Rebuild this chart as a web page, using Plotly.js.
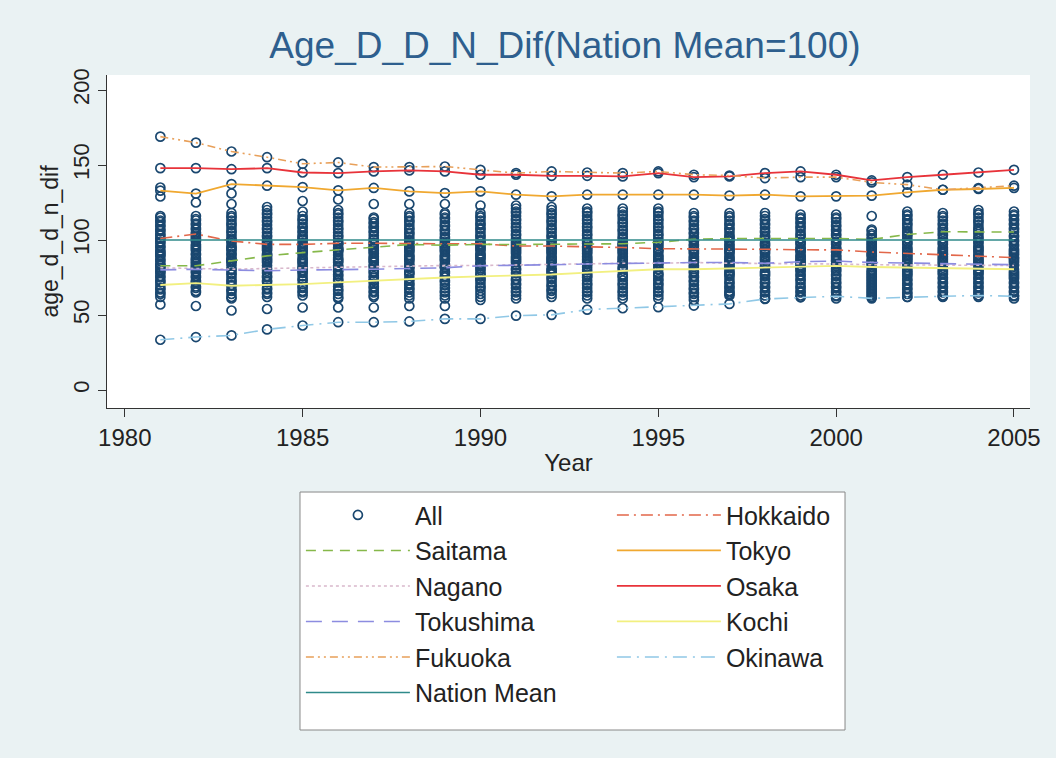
<!DOCTYPE html>
<html>
<head>
<meta charset="utf-8">
<script src="https://cdn.plot.ly/plotly-3.0.1.min.js"></script>
<style>
html,body{margin:0;padding:0;background:#eaf2f3;}
#chart{width:1056px;height:758px;}
</style>
</head>
<body>
<div id="chart"></div>
<script>
const years = [1981,1982,1983,1984,1985,1986,1987,1988,1989,1990,1991,1992,1993,1994,1995,1996,1997,1998,1999,2000,2001,2002,2003,2004,2005];

const hokkaido = [101,104,99.3,97.1,97.1,97.8,97.8,97.5,97.5,97.5,96,96,95.6,95,94.2,94.2,94,93.8,93.5,93.4,92,91,90.5,89.5,88.3];
const saitama = [82.8,82.8,86.1,89.4,91.6,93.4,95.5,97,96.5,97.1,97,97,97.5,97.5,98.5,100.5,101,101,101,101,100.4,103.7,105.5,105.5,105.3];
const tokyo = [132.9,130.9,137.3,136.2,135.3,133.1,134.7,132.4,131.3,132.4,130.2,129.1,130.2,130.2,130.2,130.2,129.6,130.2,129.1,129.1,129.6,131.8,133.5,134,134.7];
const nagano = [81.5,81,80.5,81,81.5,82,82.5,82.5,83,83,83.5,84,84,84.5,84.5,85,84.5,84.5,84.5,84,83.5,83.5,83,83,83];
const osaka = [147.9,147.9,147.2,147.9,145,144.6,145.7,146.4,145.7,143.5,143.5,142.8,142.8,142.4,144.6,141.9,142.4,144.6,145.7,143.5,139.7,141.9,143.5,145,146.8];
const tokushima = [80.1,80.5,80,79.5,80,80,80.5,81,81.5,82.8,83,83.5,84,84.5,85,85,85,84.5,85.5,86,85,84.5,84,84,83.5];
const kochi = [70,71.3,69.5,70,70.6,71.7,72.8,74.4,75,75.7,76.1,77,78.3,79.5,80.5,80.5,81,81.5,82,82.8,82,81.7,81.5,81,80.5];
const fukuoka = [168.9,164.9,159,155.2,150.8,151.7,148.6,148.6,149,146.8,144.6,145.7,145,144.6,145.7,143.5,143,141.3,141.9,141.9,138.4,136.9,133.5,134.6,136.2];
const okinawa = [33.5,35.3,36.4,40.4,43,45.2,45.2,45.7,47.4,47.4,49.6,50.1,53.6,54.5,55.2,56.3,57.4,60.7,61.8,62.5,61.1,62,62.5,63,62.5];
const nationMean = [100,100,100,100,100,100,100,100,100,100,100,100,100,100,100,100,100,100,100,100,100,100,100,100,100];

// remaining 38 prefectures, one list per year (1981..2005)
const otherPrefs = [
[135,129,116,115,113,112,110,109,107,106,104,103,101,99,98,96,95,93,92,90,89,87,86,84,83,79,78,76,75,73,72,68,67,65,64,62,57,91],
[125,116,114,113,111,110,108,107,105,103,102,100,99,97,96,94,93,91,90,88,87,85,84,82,79,78,76,75,73,72,69,68,66,65,56,95,86,101],
[131,124,118,116,115,113,111,110,108,106,105,103,101,100,98,96,95,93,91,90,88,86,85,83,78,77,75,73,72,70,67,66,64,62,61,53,94,87],
[122,120,118,117,115,113,112,110,108,107,105,103,102,100,98,96,95,93,91,90,88,86,85,83,78,76,75,73,72,68,67,65,64,62,54,94,87,99],
[126,119,116,114,113,111,109,108,106,105,103,101,100,98,96,95,93,92,90,88,87,85,84,82,79,78,76,74,73,69,68,66,65,63,55,94,86,102],
[127,120,118,117,115,113,112,110,108,107,105,103,102,100,98,97,95,93,92,90,88,87,85,83,79,77,76,74,73,69,67,66,64,62,61,55,94,86],
[124,115,114,112,111,109,108,106,105,103,101,100,98,97,95,94,92,91,89,88,86,85,83,79,78,76,75,73,71,69,68,66,65,63,62,55,93,87],
[124,118,116,115,113,112,110,108,107,105,104,102,100,99,96,95,93,92,90,89,87,86,84,82,79,78,77,73,71,70,68,67,65,63,61,56,94,88],
[124,118,117,115,114,112,110,109,107,106,104,102,101,99,96,95,93,92,90,89,87,86,84,82,79,78,76,73,72,70,68,66,65,63,61,56,94,88],
[123,118,116,115,113,111,110,108,107,105,103,102,100,99,96,95,93,91,90,88,87,85,84,81,80,78,77,74,73,71,69,68,66,64,62,60,94,89],
[123,121,119,118,116,114,113,111,109,108,106,104,103,101,99,98,95,94,92,91,89,88,86,85,81,80,78,74,73,71,70,68,66,65,63,61,93,87],
[122,120,118,117,115,113,112,110,108,107,105,103,102,100,99,95,94,92,91,89,88,86,85,81,80,79,78,75,74,72,70,69,67,66,64,62,93,87],
[121,119,118,116,114,113,111,109,108,106,104,103,101,99,98,95,94,92,91,89,88,86,85,82,80,77,76,75,73,71,70,68,66,65,63,61,93,87],
[121,119,117,116,114,112,111,109,107,106,104,102,101,99,97,96,93,92,91,89,88,86,85,82,81,77,76,75,73,71,70,68,66,65,63,61,94,87],
[121,119,118,116,114,113,111,109,108,106,104,103,101,99,97,96,93,92,90,89,88,86,84,82,78,77,76,74,73,71,70,68,66,65,63,61,94,87],
[118,116,115,113,112,110,108,107,105,104,102,100,99,97,96,94,92,91,89,88,86,83,82,79,78,76,75,73,72,70,68,67,65,64,62,60,93,87],
[118,116,115,113,111,110,108,107,105,103,102,100,99,97,96,94,92,91,89,88,86,83,82,79,78,77,76,74,72,71,69,68,66,65,63,64,93,87],
[118,116,114,113,111,110,108,106,105,103,102,100,98,97,96,94,92,91,89,88,86,83,82,79,78,77,76,74,72,71,69,68,66,65,63,61,93,87],
[117,115,114,112,111,109,108,106,104,103,101,99,98,97,95,94,92,90,89,88,86,83,81,80,79,77,76,74,73,71,69,68,66,65,63,62,93,87],
[117,115,114,112,110,109,107,106,104,103,101,99,98,97,95,94,92,90,89,87,86,84,81,80,79,77,76,74,72,71,69,68,66,65,63,61,92,88],
[116,107,106,104,103,101,99,98,97,95,94,93,91,90,89,87,86,85,80,79,78,77,76,75,74,73,72,71,70,69,68,67,66,65,64,63,62,96],
[119,117,116,114,113,111,110,108,106,105,103,101,99,98,97,95,94,92,90,89,87,86,80,79,78,77,76,74,73,71,70,68,67,65,64,62,93,88],
[118,116,115,113,111,110,108,107,104,103,101,99,98,97,95,94,92,91,89,88,86,85,80,79,78,77,75,74,72,71,69,68,66,65,63,62,93,87],
[120,118,117,115,113,112,110,108,107,104,102,101,99,98,96,95,93,92,90,88,86,85,80,79,78,77,75,74,72,71,69,68,66,65,63,62,94,87],
[119,117,116,114,113,111,110,108,107,103,102,100,99,97,96,94,93,91,90,87,86,85,79,78,77,76,75,74,72,71,69,68,66,65,63,61,92,88]
];

const named = [hokkaido, saitama, tokyo, nagano, osaka, tokushima, kochi, fukuoka, okinawa];
const allX = [], allY = [];
years.forEach((yr, i) => {
  otherPrefs[i].forEach(v => { allX.push(yr); allY.push(v); });
  named.forEach(s => { allX.push(yr); allY.push(s[i]); });
});

const FONT = 'Liberation Sans, Arial, sans-serif';

function line(name, y, color, dash, width) {
  return {type:'scatter', mode:'lines', name:name, x:years, y:y,
          line:{color:color, dash:dash, width:width||1.6}};
}

const traces = [
  {type:'scatter', mode:'markers', name:'All', x:allX, y:allY,
   marker:{symbol:'circle-open', size:9, color:'#1a476f', line:{width:1.7, color:'#1a476f'}}},
  line('Hokkaido', hokkaido, '#e2674a', '12px,5px,2px,5px'),
  line('Saitama', saitama, '#86b84a', '10px,7px'),
  line('Tokyo', tokyo, '#f0a830', 'solid', 1.8),
  line('Nagano', nagano, '#d9b8cc', 'dot'),
  line('Osaka', osaka, '#e8333a', 'solid', 1.8),
  line('Tokushima', tokushima, '#8c8ce0', '16px,10px'),
  line('Kochi', kochi, '#f2f080', 'solid', 1.8),
  line('Fukuoka', fukuoka, '#e8a05a', '8px,4px,2px,4px,2px,4px'),
  line('Okinawa', okinawa, '#90c8e6', '14px,6px,2px,6px'),
  line('Nation Mean', nationMean, '#2f8a8a', 'solid', 1.6)
];

const layout = {
  width:1056, height:758,
  paper_bgcolor:'#eaf2f3', plot_bgcolor:'#ffffff',
  font:{family:FONT, color:'#222222'},
  margin:{l:107, r:26, t:75, b:350},
  showlegend:true,
  title:{text:'Age_D_D_N_Dif(Nation Mean=100)', font:{family:FONT, size:37, color:'#2e5f8e'},
         x:0.535, xanchor:'center', y:0.94, yanchor:'middle', yref:'container'},
  xaxis:{range:[1979.5, 2005.45], tickvals:[1980,1985,1990,1995,2000,2005],
         showgrid:false, zeroline:false, showline:true, linecolor:'#333', linewidth:1,
         ticks:'outside', ticklen:8, tickcolor:'#333', tickfont:{size:24, color:'#222'},
         title:{text:'Year', font:{size:24, color:'#222'}, standoff:4}},
  yaxis:{range:[-12, 210], tickvals:[0,50,100,150,200], tickangle:-90,
         showgrid:false, zeroline:false, showline:true, linecolor:'#333', linewidth:1,
         ticks:'outside', ticklen:8, tickcolor:'#333', tickfont:{size:22, color:'#222'},
         title:{text:'age_d_d_n_dif', font:{size:23, color:'#222'}, standoff:4}},
  shapes:[{type:'rect', xref:'paper', yref:'paper', x0:0.2091, x1:0.7996, y0:-0.967, y1:-0.2523,
           fillcolor:'#ffffff', line:{color:'#888888', width:1}, layer:'below'}],
  legend:{orientation:'h', xref:'container', yref:'container', x:0.284, y:0.352,
          xanchor:'left', yanchor:'top', bgcolor:'rgba(255,255,255,0)', bordercolor:'rgba(136,136,136,0)', borderwidth:1,
          font:{size:25, color:'#222'}, entrywidth:192, entrywidthmode:'pixels',
          itemwidth:104, traceorder:'normal'}
};

Plotly.newPlot('chart', traces, layout, {staticPlot:true, displayModeBar:false});
</script>
</body>
</html>
